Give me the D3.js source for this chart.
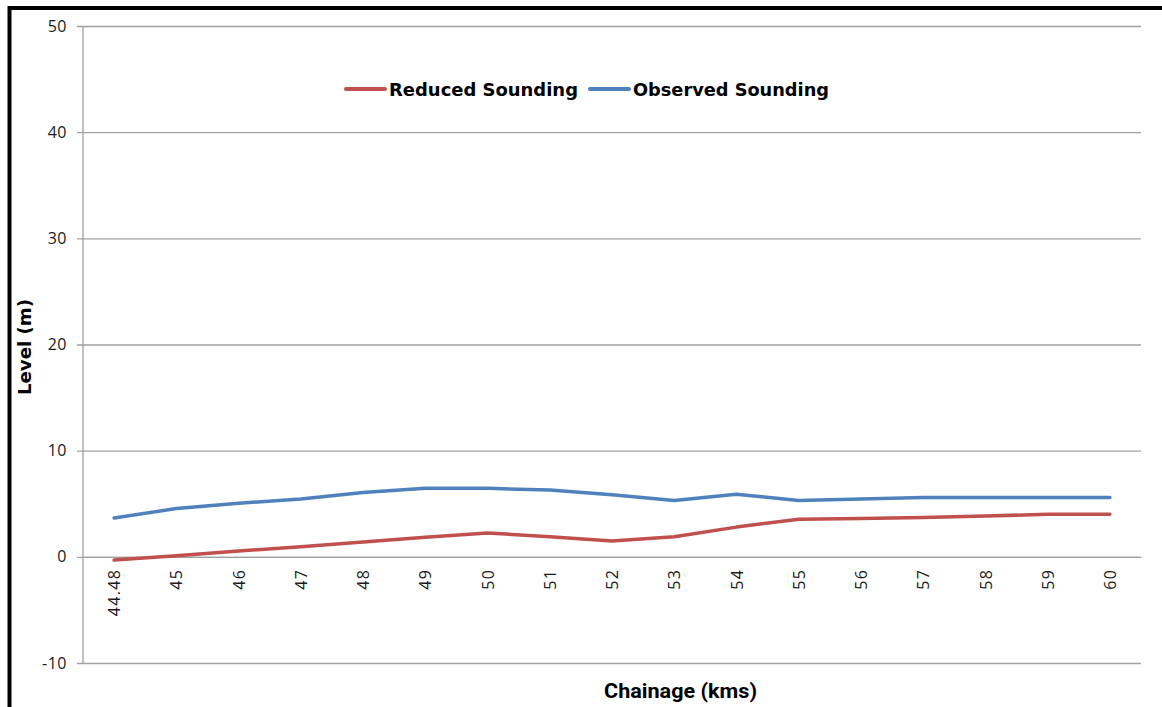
<!DOCTYPE html>
<html>
<head>
<meta charset="utf-8">
<script src="https://cdn.jsdelivr.net/npm/d3@7"></script>
<style>
  html, body { margin: 0; padding: 0; background: #fff; }
  svg { display: block; }
</style>
</head>
<body>
<svg id="chart" width="1162" height="707"></svg>
<script>
// Chainage stations (km) and sounding levels (m)
const chainage = ["44.48", "45", "46", "47", "48", "49", "50", "51", "52", "53", "54", "55", "56", "57", "58", "59", "60"];
const reducedSounding = [-0.3, 0.1, 0.55, 0.95, 1.4, 1.85, 2.25, 1.9, 1.5, 1.9, 2.8, 3.55, 3.6, 3.7, 3.85, 4.0, 4.0];
const observedSounding = [3.65, 4.55, 5.05, 5.45, 6.05, 6.45, 6.45, 6.3, 5.85, 5.3, 5.9, 5.3, 5.45, 5.6, 5.6, 5.6, 5.6];
const yTicks = [-10, 0, 10, 20, 30, 40, 50];
const seriesNames = ["Reduced Sounding", "Observed Sounding"];
const seriesColors = ["#C0504D", "#4F81BD"];

const svg = d3.select("#chart");
const plot = { left: 83, right: 1141, top: 26, bottom: 663 };
const tickFont = "'Open Sans', 'DejaVu Sans', sans-serif";

// Outer frame (left and top edges)
svg.append("line").attr("x1", 9.5).attr("x2", 9.5).attr("y1", 6).attr("y2", 707)
  .attr("stroke", "#000").attr("stroke-width", 4);
svg.append("line").attr("x1", 8).attr("x2", 1162).attr("y1", 8).attr("y2", 8)
  .attr("stroke", "#000").attr("stroke-width", 4);

const x = d3.scalePoint().domain(chainage).range([plot.left, plot.right]).padding(0.5);
const y = d3.scaleLinear().domain([-10, 50]).range([plot.bottom, plot.top]);

// Horizontal gridlines with value axis (plain hyphen for negatives)
const yAxis = d3.axisLeft(y).tickValues(yTicks).tickSize(-(plot.right - plot.left + 6)).tickPadding(10)
  .tickFormat(d => String(d));
const yg = svg.append("g").attr("transform", `translate(${plot.left - 6},0)`).call(yAxis);
yg.select(".domain").remove();
yg.selectAll(".tick line").attr("stroke", "#a0a0a0").attr("stroke-width", 1.3);
yg.selectAll(".tick text").attr("fill", "#1a1a1a").attr("font-family", tickFont).attr("font-size", 16)
  .attr("letter-spacing", 0.5);

// Vertical value axis line
svg.append("line").attr("x1", plot.left).attr("x2", plot.left).attr("y1", plot.top).attr("y2", plot.bottom)
  .attr("stroke", "#a0a0a0").attr("stroke-width", 1.3);

// Category axis crossing at zero
const xAxis = d3.axisBottom(x).tickSize(0).tickPadding(0);
const xg = svg.append("g").attr("transform", `translate(0,${y(0)})`).call(xAxis);
xg.select(".domain").attr("stroke", "#a0a0a0").attr("stroke-width", 1.3);
xg.selectAll(".tick text")
  .attr("font-family", tickFont).attr("font-size", 16).attr("fill", "#1a1a1a")
  .attr("letter-spacing", 1.3)
  .attr("text-anchor", "end").attr("dy", "0.35em")
  .attr("transform", "translate(0,12) rotate(-90)").attr("x", 0).attr("y", 0);

// Series lines
const line = d3.line().x((d, i) => x(chainage[i])).y(d => y(d));
[reducedSounding, observedSounding].forEach((vals, k) => {
  svg.append("path").datum(vals).attr("d", line)
    .attr("fill", "none").attr("stroke", seriesColors[k]).attr("stroke-width", 3.5)
    .attr("stroke-linejoin", "round").attr("stroke-linecap", "round");
});

// Legend
const legend = svg.append("g").attr("font-family", "'DejaVu Sans', sans-serif").attr("font-weight", "bold").attr("font-size", 17);
const legendItems = [{ x0: 346, tx: 389 }, { x0: 590, tx: 633 }];
seriesNames.forEach((name, k) => {
  legend.append("line").attr("x1", legendItems[k].x0).attr("x2", legendItems[k].x0 + 39).attr("y1", 89).attr("y2", 89)
    .attr("stroke", seriesColors[k]).attr("stroke-width", 4).attr("stroke-linecap", "round");
  legend.append("text").attr("x", legendItems[k].tx).attr("y", 96).attr("fill", "#000")
    .attr("textLength", k === 0 ? 189 : 196).attr("lengthAdjust", "spacingAndGlyphs").text(name);
});

// Axis titles
svg.append("text").attr("x", 604).attr("y", 698)
  .attr("font-family", "'Liberation Sans Narrow', 'Roboto', sans-serif").attr("font-weight", "bold").attr("font-size", 20)
  .attr("fill", "#000").attr("textLength", 153).attr("lengthAdjust", "spacingAndGlyphs").text("Chainage (kms)");
svg.append("text").attr("transform", "translate(31,347) rotate(-90)").attr("text-anchor", "middle")
  .attr("font-family", "'DejaVu Sans', sans-serif").attr("font-weight", "bold").attr("font-size", 17)
  .attr("fill", "#000").attr("textLength", 96).attr("lengthAdjust", "spacingAndGlyphs").text("Level (m)");
</script>
</body>
</html>
